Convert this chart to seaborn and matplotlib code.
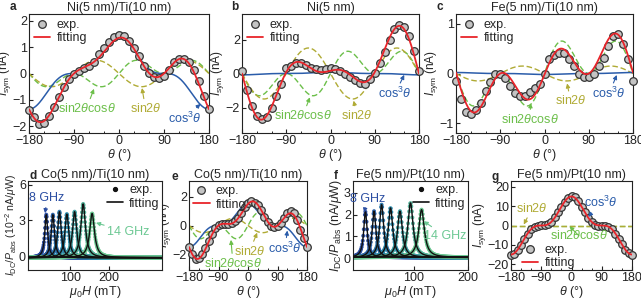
import numpy as np
import pandas as pd
import matplotlib
matplotlib.use("Agg")
import matplotlib.pyplot as plt
import seaborn as sns
from matplotlib.ticker import MultipleLocator, FixedLocator
from matplotlib.lines import Line2D

# ---------------- data ----------------
theta = list(range(-180, 181, 10))

# panel a : Ni(5 nm)/Ti(10 nm)
exp_a = [-1.38, -1.65, -1.9, -1.88, -1.62, -1.28, -0.88, -0.5, -0.2, -0.02, 0.1, 0.2, 0.3,
         0.45, 0.72, 0.98, 1.2, 1.38, 1.45, 1.4, 1.22, 0.98, 0.65, 0.3, 0.02, -0.15, -0.18,
         -0.08, 0.15, 0.42, 0.55, 0.56, 0.45, 0.15, -0.3, -0.85, -1.35]
coef_a = [0.65, -0.5, 1.35, 0.0]     # sin2θcosθ, sin2θ, cos³θ, offset

# panel b : Ni(5 nm)
exp_b = [0.15, -0.95, -1.9, -2.5, -2.65, -2.55, -2.0, -1.3, -0.6, 0.35, 0.45, 0.6, 0.6,
         0.5, 0.35, 0.25, 0.2, 0.25, 0.3, 0.25, 0.15, 0.0, -0.2, -0.4, -0.55, -0.6, -0.35,
         0.05, 0.6, 1.25, 2.0, 2.6, 2.85, 2.75, 2.2, 1.35, 0.15]
coef_b = [1.7, -1.5, 0.08, 0.08]

# panel c : Fe(5 nm)/Ti(10 nm)
exp_c = [-0.15, -0.52, -0.78, -0.82, -0.73, -0.6, -0.35, -0.18, -0.02, -0.02, -0.1, -0.25,
         -0.4, -0.45, -0.45, -0.38, -0.3, -0.22, 0.0, 0.3, 0.38, 0.42, 0.42, 0.3, 0.15, 0.0,
         -0.07, -0.07, 0.0, 0.15, 0.32, 0.55, 0.75, 0.8, 0.6, 0.3, -0.15]
coef_c = [0.85, -0.15, -0.02, 0.0]

# panel e : Co(5 nm)/Ti(10 nm)
exp_e = [-1.5, -2.0, -2.3, -2.25, -2.0, -1.6, -1.1, -0.6, -0.2, 0.05, 0.1, 0.1, 0.1, 0.15,
         0.3, 0.55, 0.9, 1.3, 1.6, 1.7, 1.6, 1.4, 1.05, 0.6, 0.25, 0.0, -0.1, -0.05, 0.2,
         0.55, 0.9, 1.0, 0.9, 0.4, -0.3, -0.9, -1.5]
coef_e = [1.2, -0.5, 1.5, 0.0]

# panel g : Fe(5 nm)/Pt(10 nm)
exp_g = [-15.5, -14.5, -12.8, -10.0, -7.0, -4.2, -2.0, -0.6, 0.0, 0.2, 0.1, 0.8, 2.0, 4.2,
         6.8, 9.6, 12.4, 14.3, 15.0, 14.5, 12.6, 9.8, 7.0, 4.0, 1.9, 0.5, 0.0, -0.1, -0.2,
         -0.7, -2.0, -4.3, -6.9, -9.8, -12.6, -14.4, -15.5]
coef_g = [0.0, 0.0, 15.0, 0.0]

# panel d : Co(5 nm)/Ti(10 nm) ST-FMR, 8..14 GHz
freqs = ["8", "9", "10", "11", "12", "13", "14"]
H0_d = [38, 55, 72, 91, 111, 133, 156]
amp_d = [3.6, 3.6, 3.85, 3.65, 3.85, 4.5, 3.7]
hw_d = [4.5, 5.0, 5.5, 6.0, 6.5, 7.0, 7.5]
base_d = -0.12

# panel f : Fe(5 nm)/Pt(10 nm) ST-FMR, 8..14 GHz
H0_f = [10, 26, 40, 56.5, 74, 93.5, 114]
amp_f = [2.1, 2.13, 2.43, 2.28, 2.13, 2.51, 2.2]
hw_f = [3.8, 4.2, 4.6, 5.0, 5.4, 5.8, 6.2]
base_f = 0.03

# ---------------- style ----------------
sns.set_theme(style="ticks")
plt.rcParams["font.family"] = ["Liberation Sans", "DejaVu Sans"]
plt.rcParams["mathtext.fontset"] = "custom"
plt.rcParams["mathtext.rm"] = "Liberation Sans"
plt.rcParams["mathtext.it"] = "Liberation Sans:italic"
plt.rcParams["mathtext.bf"] = "Liberation Sans:bold"
plt.rcParams["axes.linewidth"] = 0.8
plt.rcParams["axes.edgecolor"] = "#222222"

FS = 9
RED = "#e8242a"
BLUE = "#2a5caa"
GREEN = "#6cbf4a"
OLIVE = "#b0ab35"
FACE = "#c4c4c4"
EDGE = "#333333"

W, H = 641, 299
fig = plt.figure(figsize=(W / 100, H / 100), dpi=100)


def px_axes(l, t, r, b):
    return fig.add_axes([l / W, 1 - b / H, (r - l) / W, (b - t) / H])


def style_ax(ax):
    ax.tick_params(direction="in", length=3, width=0.8, labelsize=FS, pad=1.5, colors="#222222")
    ax.tick_params(which="minor", direction="in", length=1.8, width=0.7)
    for s in ax.spines.values():
        s.set_linewidth(0.8)


th = np.linspace(-180, 180, 721)


def basis(t):
    r = np.deg2rad(np.asarray(t, dtype=float))
    return np.sin(2 * r) * np.cos(r), np.sin(2 * r), np.cos(r) ** 3


def angle_panel(ax, exp, coef, ylim, yticks, title, notes, leg_loc, leg_anchor):
    A, B, C, D = coef
    s2c, s2, c3 = basis(th)
    df = pd.DataFrame({"th": th, "g": A * s2c, "o": B * s2, "b": C * c3})
    df["fit"] = df["g"] + df["o"] + df["b"] + D
    sns.lineplot(data=df, x="th", y="g", ax=ax, color=GREEN, lw=1.0, linestyle=(0, (4, 2)), zorder=2)
    sns.lineplot(data=df, x="th", y="o", ax=ax, color=OLIVE, lw=1.0, linestyle=(0, (4, 2)), zorder=2)
    sns.lineplot(data=df, x="th", y="b", ax=ax, color=BLUE, lw=1.1, zorder=2)
    dexp = pd.DataFrame({"th": theta, "v": exp})
    sns.scatterplot(data=dexp, x="th", y="v", ax=ax, s=30, color=FACE, edgecolor=EDGE,
                    linewidth=0.9, zorder=3, clip_on=False)
    sns.lineplot(data=df, x="th", y="fit", ax=ax, color=RED, lw=1.3, zorder=4)
    ax.set_xlim(-180, 180)
    ax.set_ylim(*ylim)
    ax.xaxis.set_major_locator(FixedLocator([-180, -90, 0, 90, 180]))
    ax.xaxis.set_minor_locator(MultipleLocator(30))
    ax.yaxis.set_major_locator(FixedLocator(yticks))
    ax.set_xlabel(r"$\theta$ (°)", fontsize=FS, labelpad=0)
    ax.set_ylabel(r"$I_{\rm sym}$ (nA)", fontsize=8.6, labelpad=0)
    ax.set_title(title, fontsize=FS, pad=2)
    style_ax(ax)
    for txt, col, xy, xyt in notes:
        ax.annotate(txt, xy=xy, xytext=xyt, color=col, fontsize=FS, ha="center", va="center",
                    arrowprops=dict(arrowstyle="-|>", color=col, lw=0.8, shrinkA=0, shrinkB=0,
                                    mutation_scale=6), zorder=6)
    h = [Line2D([], [], marker="o", ls="none", mfc=FACE, mec=EDGE, ms=5.5, mew=0.9),
         Line2D([], [], color=RED, lw=1.3)]
    ax.legend(h, ["exp.", "fitting"], loc=leg_loc, bbox_to_anchor=leg_anchor, frameon=False,
              fontsize=FS, handlelength=1.3, handletextpad=0.5, labelspacing=0.1,
              borderpad=0.2, borderaxespad=0)


S2C = r"sin2$\theta$cos$\theta$"
S2 = r"sin2$\theta$"
C3 = r"cos$^3\theta$"

ax_a = px_axes(29, 14, 209, 133)
angle_panel(ax_a, exp_a, coef_a, (-2.25, 2.25), [-2, -1, 0, 1, 2], "Ni(5 nm)/Ti(10 nm)",
            [(S2C, GREEN, (-50, -0.58), (-65, -1.32)),
             (S2, OLIVE, (46, -0.55), (53, -1.32)),
             (C3, BLUE, (163, -1.15), (132, -1.7))],
            "upper left", (0.015, 0.98))

ax_b = px_axes(242, 14, 419, 133)
angle_panel(ax_b, exp_b, coef_b, (-3.5, 3.5), [-2, 0, 2], "Ni(5 nm)",
            [(S2C, GREEN, (-42, -1.4), (-56, -2.47)),
             (S2, OLIVE, (47, -1.6), (54, -2.47)),
             (C3, BLUE, (150, -0.08), (131, -1.2))],
            "upper left", (0.015, 0.98))

ax_c = px_axes(456, 14, 633, 133)
angle_panel(ax_c, exp_c, coef_c, (-1.2, 1.2), [-1, 0, 1], "Fe(5 nm)/Ti(10 nm)",
            [(S2C, GREEN, (-28, -0.6), (-30, -0.92)),
             (S2, OLIVE, (46, -0.2), (53, -0.55)),
             (C3, BLUE, (147, -0.03), (131, -0.41))],
            "upper left", (0.015, 0.98))

ax_e = px_axes(189, 181, 307, 270)
angle_panel(ax_e, exp_e, coef_e, (-3.1, 3.1), [-2, 0, 2], "Co(5 nm)/Ti(10 nm)",
            [(S2C, GREEN, (-52, -1.0), (-46, -2.62)),
             (S2, OLIVE, (28, -0.5), (5, -1.78)),
             (C3, BLUE, (120, -0.35), (113, -1.6))],
            "upper left", (0.015, 0.98))

ax_g = px_axes(511, 181, 632, 270)
angle_panel(ax_g, exp_g, coef_g, (-23, 23), [-20, -10, 0, 10, 20], "Fe(5 nm)/Pt(10 nm)",
            [(S2, OLIVE, (-142, 0.5), (-117, 9)),
             (S2C, GREEN, (-6, -0.4), (22, -5.3)),
             (C3, BLUE, (50, 4.5), (88, 12))],
            "lower left", (0.07, -0.02))


# ---------------- FMR panels ----------------
pal = sns.blend_palette(["#2b4ea2", "#2f8fb0", "#6cc893"], 7)


def fmr_panel(ax, H0s, amps, hws, base, xlim, ylim, yticks, ylabel, title, n8, n14, ylabfs):
    Hgrid = np.arange(xlim[0], xlim[1] + 0.01, 1.0)
    Hfine = np.linspace(xlim[0], xlim[1], 1500)
    rows = []
    fits = []
    for f, h0, a, w in zip(freqs, H0s, amps, hws):
        y = a * w ** 2 / ((Hgrid - h0) ** 2 + w ** 2) + base
        rows.append(pd.DataFrame({"H": Hgrid, "v": y, "f": f}))
        yf = a * w ** 2 / ((Hfine - h0) ** 2 + w ** 2) + base
        fits.append(pd.DataFrame({"H": Hfine, "v": yf, "f": f}))
    dexp = pd.concat(rows)
    dfit = pd.concat(fits)
    sns.scatterplot(data=dexp, x="H", y="v", hue="f", palette=pal, ax=ax, s=8, linewidth=0,
                    legend=False, zorder=2)
    sns.lineplot(data=dfit, x="H", y="v", units="f", estimator=None, color="#111111", lw=1.0,
                 ax=ax, zorder=3)
    ax.set_xlim(*xlim)
    ax.set_ylim(*ylim)
    ax.xaxis.set_major_locator(FixedLocator([100, 200]))
    ax.yaxis.set_major_locator(FixedLocator(yticks))
    ax.set_xlabel(r"$\mu_0H$ (mT)", fontsize=FS, labelpad=0)
    ax.set_ylabel(ylabel, fontsize=ylabfs, labelpad=0)
    ax.set_title(title, fontsize=FS, pad=2)
    style_ax(ax)
    ax.annotate("8 GHz", xy=n8[0], xytext=n8[1], color=pal[0], fontsize=FS, ha="center",
                va="center", arrowprops=dict(arrowstyle="-|>", color=pal[0], lw=0.8,
                                             shrinkA=0, shrinkB=0, mutation_scale=6))
    ax.annotate("14 GHz", xy=n14[0], xytext=n14[1], color=pal[-1], fontsize=FS, ha="center",
                va="center", arrowprops=dict(arrowstyle="-|>", color=pal[-1], lw=0.8,
                                             shrinkA=0, shrinkB=0, mutation_scale=6))
    h = [Line2D([], [], marker="o", ls="none", color="#111111", ms=2.8),
         Line2D([], [], color="#111111", lw=1.2)]
    ax.legend(h, ["exp.", "fitting"], loc="upper right", bbox_to_anchor=(1.0, 0.99),
              frameon=False, fontsize=FS, handlelength=1.3, handletextpad=0.5,
              labelspacing=0.1, borderpad=0.2, borderaxespad=0)


ax_d = px_axes(28, 181, 162, 270)
fmr_panel(ax_d, H0_d, amp_d, hw_d, base_d, (-9, 336), (-1.15, 6.3), [0, 3, 6],
          r"$I_{\rm DC}/P_{\rm abs}$ (10$^{-2}$ nA/$\mu$W)", "Co(5 nm)/Ti(10 nm)",
          ((35, 3.6), (40, 4.85)), ((166, 2.8), (250, 2.0)), 7.6)

ax_f = px_axes(353, 181, 468, 270)
fmr_panel(ax_f, H0_f, amp_f, hw_f, base_f, (-13, 200), (-0.55, 3.55), [0, 1, 2, 3],
          r"$I_{\rm DC}/P_{\rm abs}$ (nA/$\mu$W)", "Fe(5 nm)/Pt(10 nm)",
          ((7.5, 2.1), (14, 2.74)), ((118, 1.7), (157, 1.02)), FS)

# panel letters
for L, x, y in [("a", 13, 7), ("b", 235, 7), ("c", 440, 7), ("d", 33, 176),
                ("e", 175, 177), ("f", 336, 176), ("g", 495, 177)]:
    fig.text(x / W, 1 - y / H, L, fontsize=FS - 0.5, fontweight="bold", ha="center", va="center")

fig.savefig("out.png", dpi=100)
